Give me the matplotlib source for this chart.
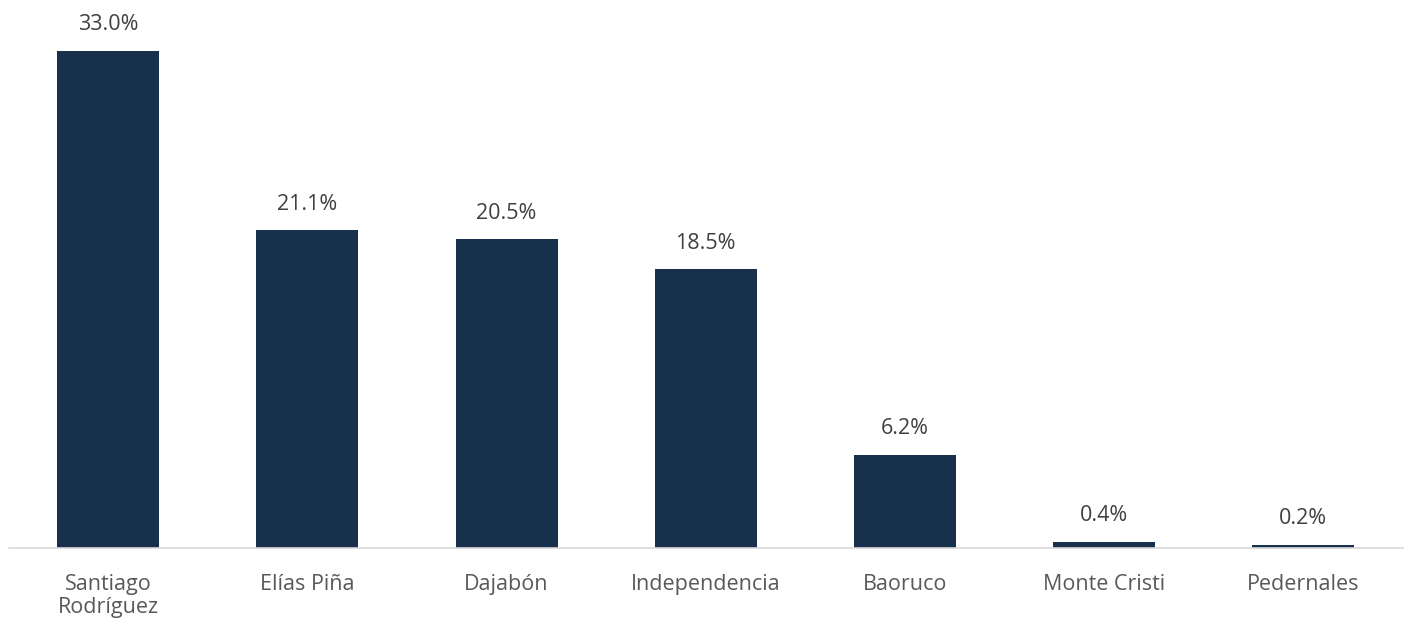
import matplotlib.pyplot as plt

# Data
provinces = ['Santiago\nRodríguez', 'Elías Piña', 'Dajabón', 'Independencia',
             'Baoruco', 'Monte Cristi', 'Pedernales']
shares = [33.0, 21.1, 20.5, 18.5, 6.2, 0.4, 0.2]

plt.rcParams['font.family'] = ['Open Sans', 'DejaVu Sans']

fig = plt.figure(figsize=(14.05, 6.27), dpi=100)
ax = fig.add_axes([8.5 / 1405, 79 / 627, 1394.5 / 1405, 538 / 627])

x = range(len(provinces))
bars = ax.bar(x, shares, width=0.512, color='#17304c')

for b, v in zip(bars, shares):
    ax.annotate(f"{v:.1f}%", (b.get_x() + b.get_width() / 2, b.get_height()),
                xytext=(0, 26), textcoords='offset pixels',
                ha='center', va='center', fontsize=15.5, color='#404040')

ax.set_xlim(-0.5, len(provinces) - 0.5)
ax.set_ylim(0, 33.0 * 538 / 497)
ax.set_xticks(list(x))
ax.set_xticklabels(provinces, fontsize=15.5, color='#595959', linespacing=1.12)
ax.tick_params(axis='x', length=0, pad=18.5)
ax.set_yticks([])
for side in ('top', 'right', 'left'):
    ax.spines[side].set_visible(False)
ax.spines['bottom'].set_color('#d9d9d9')
ax.spines['bottom'].set_linewidth(1.2)

fig.savefig('out.png', dpi=100)
